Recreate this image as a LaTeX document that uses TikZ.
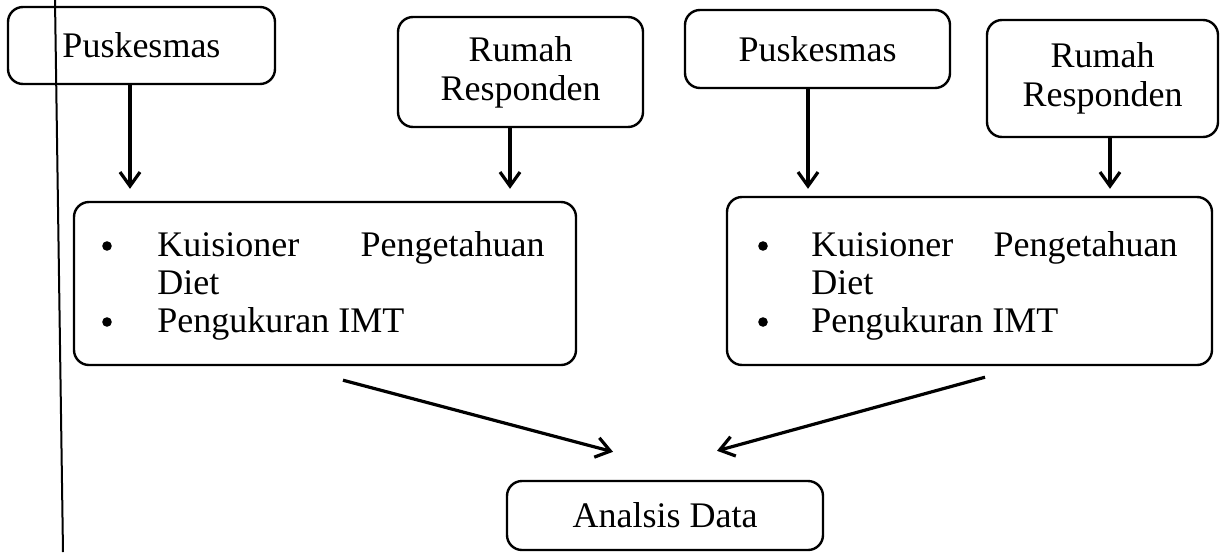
\documentclass[tikz,border=0pt]{standalone}
\usepackage{fontspec}
\setmainfont{Liberation Serif}
\usetikzlibrary{arrows.meta}
\begin{document}
\begin{tikzpicture}[x=0.5pt,y=-0.5pt,
  txt/.style={font=\fontsize{18}{19.5}\selectfont},
  rbox/.style={draw, line width=1.2pt, rounded corners=7.5pt, inner sep=0pt, align=center, txt},
  itm/.style={txt, inner sep=0pt},
  dot/.style={circle, fill, inner sep=0pt, minimum size=4.8pt},
  arr/.style={line width=1.6pt, -{Straight Barb[length=7pt,width=10pt]}}]
\useasboundingbox (0,0) rectangle (1220,552);
\fill[white] (0,0) rectangle (1220,552);
% boxes
\node[rbox, minimum width=133.5pt, minimum height=38.5pt] (pk1) at (141.5,45.5) {Puskesmas};
\node[rbox, minimum width=122.5pt, minimum height=55pt] (rr1) at (520.5,72) {Rumah\\Responden};
\node[rbox, minimum width=132.5pt, minimum height=39pt] (pk2) at (817.5,49) {Puskesmas};
\node[rbox, minimum width=115.5pt, minimum height=58.5pt] (rr2) at (1102.5,78.5) {Rumah\\Responden};
\node[rbox, minimum width=251pt, minimum height=81.5pt] (ls1) at (325,283.5) {};
\node[rbox, minimum width=242.5pt, minimum height=84pt] (ls2) at (969.5,281) {};
\node[rbox, minimum width=158pt, minimum height=34.5pt] (ad) at (665,515.5) {Analsis Data};
% list texts left
\node[dot] (b11) at (107,246) {};
\node[itm, anchor=base west] (t11) at (157,256) {Kuisioner};
\node[itm, anchor=base east] (t12) at (545,256) {Pengetahuan};
\node[itm, anchor=base west] (t13) at (157,294) {Diet};
\node[dot] (b12) at (107,322) {};
\node[itm, anchor=base west] (t14) at (157,332) {Pengukuran IMT};
% list texts right
\node[dot] (b21) at (763,246) {};
\node[itm, anchor=base west] (t21) at (811,256) {Kuisioner};
\node[itm, anchor=base east] (t22) at (1178,256) {Pengetahuan};
\node[itm, anchor=base west] (t23) at (811,294) {Diet};
\node[dot] (b22) at (763,322) {};
\node[itm, anchor=base west] (t24) at (811,332) {Pengukuran IMT};
% vertical arrows
\draw[arr] ([xshift=-5.75pt]pk1.south) -- ([xshift=-5.75pt,yshift=6pt]pk1.south |- ls1.north);
\draw[arr] ([xshift=-5.25pt]rr1.south) -- ([xshift=-5.25pt,yshift=6pt]rr1.south |- ls1.north);
\draw[arr] ([xshift=-4.75pt]pk2.south) -- ([xshift=-4.75pt,yshift=3.5pt]pk2.south |- ls2.north);
\draw[arr] ([xshift=3.75pt]rr2.south) -- ([xshift=3.75pt,yshift=3.5pt]rr2.south |- ls2.north);
% diagonal arrows
\draw[arr] ([xshift=9pt,yshift=-7pt]ls1.south) -- ([xshift=-26pt,yshift=14pt]ad.north);
\draw[arr] ([xshift=7.75pt,yshift=-5.5pt]ls2.south) -- ([xshift=26pt,yshift=14.5pt]ad.north);
% margin line
\coordinate (vt) at (55,0);
\coordinate (vb) at (63,552);
\draw[line width=1pt] (vt) -- (vb);
\end{tikzpicture}
\end{document}
